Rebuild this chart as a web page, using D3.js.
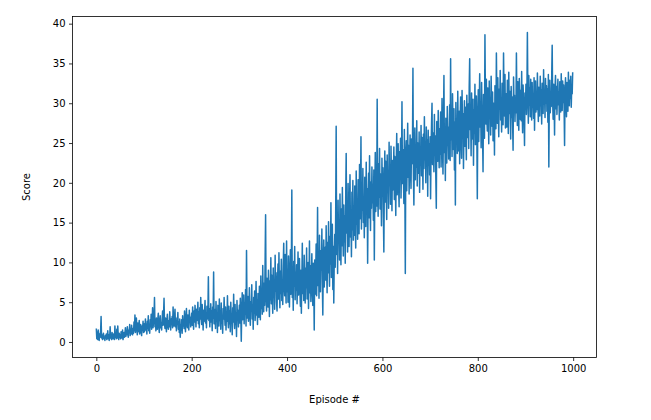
<!DOCTYPE html>
<html>
<head>
<meta charset="utf-8">
<script src="https://cdn.jsdelivr.net/npm/d3@7/dist/d3.min.js"></script>
<style>
  html, body { margin: 0; padding: 0; background: #fff; }
  svg { display: block; }
  .tick text { font-family: "DejaVu Sans", sans-serif; font-size: 10px; fill: #000; }
  .lbl { font-family: "DejaVu Sans", sans-serif; font-size: 10px; fill: #000; }
</style>
</head>
<body>
<svg id="chart" width="651" height="420"></svg>
<script>
// ---- data (scores per episode) ----
const scores = [
1.7,0.4,1.2,0.3,1.5,0.8,0.2,1.0,0.6,1.3,3.2,0.5,0.9,0.3,0.7,1.1,0.4,0.6,0.2,0.8,
0.5,1.0,0.3,0.7,1.4,0.4,0.9,0.2,0.6,1.9,0.5,0.8,0.3,1.2,0.6,0.4,1.0,0.7,0.3,2.0,
0.6,0.9,0.4,1.6,0.5,2.0,0.8,0.3,1.1,0.6,0.9,0.4,1.3,0.7,0.5,1.5,0.3,0.8,1.2,0.6,
1.0,1.8,0.7,1.4,0.9,1.9,1.1,0.6,1.5,1.2,2.2,0.8,1.6,1.0,2.1,1.3,0.9,1.7,1.1,2.5,
1.4,3.4,1.2,2.0,3.0,1.6,0.9,2.4,1.3,1.9,2.7,1.0,1.6,2.2,1.4,0.8,2.0,1.5,2.6,1.2,
2.3,1.3,1.8,2.9,1.5,2.2,1.0,2.6,1.7,3.3,1.4,2.1,1.1,2.8,1.9,3.5,1.6,2.4,4.3,1.8,
2.5,3.1,5.6,1.9,2.7,1.4,3.0,2.2,1.6,2.9,3.6,2.0,1.2,2.6,3.3,1.8,2.4,1.5,2.8,3.9,
2.1,3.4,5.5,2.3,1.7,3.0,2.5,1.3,2.8,3.5,2.0,1.6,2.7,1.9,3.8,2.4,1.5,2.9,2.2,3.2,
1.8,4.4,2.6,2.0,3.1,4.1,1.9,2.7,1.4,3.0,2.3,3.7,1.6,2.5,1.2,2.9,0.6,2.1,1.5,2.8,
1.1,3.3,2.0,2.6,1.7,3.9,2.4,1.3,2.9,4.2,2.2,1.8,3.4,2.7,1.5,4.0,2.5,3.1,1.9,2.8,
3.6,2.1,4.4,2.8,1.6,3.9,2.5,4.6,3.2,1.9,4.1,2.7,3.5,5.0,2.3,3.8,1.8,4.3,2.9,5.6,
3.1,2.2,4.7,3.4,1.5,4.0,2.6,3.7,5.2,2.4,3.3,1.8,4.5,2.9,3.6,8.2,2.7,4.2,1.9,3.5,
4.8,2.5,3.9,1.4,4.4,3.0,8.8,2.3,4.1,3.4,1.7,5.1,2.8,3.6,1.2,4.6,3.1,2.0,5.4,2.7,
3.8,1.6,4.9,2.4,3.3,1.1,4.2,2.9,5.6,3.5,2.1,4.4,1.5,3.7,2.6,5.8,3.0,1.8,4.5,2.3,
3.9,1.3,5.0,2.7,3.4,0.9,4.3,2.5,6.0,3.1,1.7,4.7,2.2,3.6,0.7,5.2,2.9,4.0,1.9,3.3,
4.6,2.4,5.5,3.2,0.1,4.1,6.2,2.8,3.7,5.9,2.3,4.9,3.5,6.6,2.0,11.5,4.4,3.0,5.7,2.6,
4.3,6.8,3.3,2.1,5.1,3.9,7.2,2.9,4.7,1.6,5.6,3.6,6.4,2.7,4.0,7.6,3.4,5.3,2.2,6.1,
4.5,3.1,7.0,5.2,2.8,8.3,4.2,6.5,3.5,9.6,5.0,3.8,7.4,4.6,10.2,16.0,5.5,3.9,8.0,6.2,
4.4,9.0,6.8,3.2,7.7,5.3,10.6,4.8,8.4,6.0,3.6,9.3,5.7,7.1,4.1,10.9,6.4,8.7,5.0,3.9,
7.5,9.8,5.4,11.2,6.6,4.3,8.9,6.1,10.4,5.2,7.8,4.7,9.5,12.4,6.9,5.8,11.0,7.3,4.9,12.7,
6.3,9.1,5.0,10.8,7.6,4.4,8.5,11.6,6.0,9.4,19.1,5.6,8.2,4.0,10.1,7.0,12.0,5.3,8.8,6.5,
9.7,4.8,7.4,11.3,5.9,8.1,10.5,6.4,4.5,9.0,3.6,7.7,12.4,6.1,8.6,5.2,10.9,7.2,4.9,9.3,
6.8,11.8,5.4,8.3,10.0,4.2,7.5,12.7,6.2,9.6,5.1,8.0,11.1,6.7,4.6,9.9,7.0,1.5,10.3,6.0,
8.4,12.3,5.8,9.2,16.9,7.1,10.7,5.5,13.4,8.0,6.3,11.5,9.0,14.2,7.4,3.4,10.1,12.8,6.9,9.5,
11.9,7.8,14.6,9.3,6.2,12.5,8.7,15.1,10.2,7.0,13.3,9.8,17.5,8.1,11.4,14.8,6.6,12.0,4.9,10.6,
13.5,9.4,16.2,27.1,11.0,15.3,8.6,17.8,12.4,14.9,10.3,18.6,13.0,9.7,16.7,12.1,19.4,14.3,10.8,17.2,
12.6,15.8,9.9,18.1,23.7,13.7,16.5,11.3,19.9,14.6,12.0,17.4,21.0,13.2,15.9,10.7,18.8,14.1,20.3,12.8,
16.9,13.4,19.6,15.2,11.8,21.5,14.8,17.7,12.9,20.4,16.0,13.6,22.3,15.5,18.5,25.8,14.2,19.1,16.6,21.8,
15.0,18.3,13.1,20.7,17.2,14.5,22.6,16.1,19.3,9.9,17.9,21.2,15.6,23.4,18.0,14.0,20.1,16.8,22.0,17.5,
19.8,15.3,21.6,10.3,18.6,23.8,16.4,20.5,17.1,30.5,19.0,15.8,22.4,18.2,24.3,16.7,21.1,19.5,14.6,23.1,
18.4,21.9,16.2,11.3,20.0,24.0,17.6,22.7,19.2,15.4,23.5,18.9,21.4,16.8,25.1,19.7,22.2,17.3,24.6,20.3,
16.5,22.8,19.1,21.0,24.5,17.9,23.3,20.6,15.9,22.5,26.2,18.5,21.7,24.9,19.4,17.0,23.9,20.8,25.6,18.1,
22.1,30.2,19.9,24.2,21.3,17.4,26.7,20.2,8.6,23.6,25.3,19.0,22.9,27.5,20.7,24.7,18.6,23.0,26.0,21.5,
19.3,25.5,22.4,24.1,34.4,21.1,17.2,23.7,26.9,20.4,24.8,22.0,27.8,19.6,25.0,23.2,21.2,26.4,18.8,24.4,
22.6,27.2,20.9,25.7,23.4,19.2,26.1,21.8,28.3,22.9,24.6,20.0,27.0,23.1,25.4,18.3,26.6,22.2,24.9,21.0,
25.8,18.0,23.9,27.4,30.0,22.3,26.3,24.0,21.4,28.6,23.5,25.9,20.6,16.8,27.7,24.3,22.7,29.1,25.2,21.9,
26.8,23.6,28.9,22.0,25.6,30.6,24.5,21.1,27.3,33.5,23.8,26.5,20.3,28.1,25.1,22.5,29.6,24.7,27.0,23.0,
26.0,29.8,22.8,35.6,25.4,28.4,23.3,31.2,26.6,24.2,29.3,21.6,27.6,17.2,30.1,25.0,28.0,23.7,31.5,26.2,
24.0,29.0,22.4,27.9,30.8,25.3,23.1,31.6,26.9,28.7,21.8,27.1,30.3,24.6,29.5,26.4,22.9,31.0,27.5,25.7,
29.9,24.3,32.0,35.6,26.7,28.8,23.4,31.3,27.2,25.5,30.5,22.2,29.2,26.3,32.4,24.8,28.2,30.9,25.9,18.0,
27.8,31.7,25.2,29.6,33.7,27.0,30.2,24.4,32.6,28.5,26.1,21.4,31.1,29.0,25.6,38.6,30.4,27.4,33.0,28.1,
26.5,31.9,29.4,24.9,32.8,28.3,30.7,26.0,33.4,29.7,27.1,31.4,25.3,30.0,28.6,23.5,32.2,29.1,26.8,36.3,
30.6,27.5,33.2,28.9,25.8,31.8,29.3,34.1,27.9,30.3,26.4,32.5,29.8,27.3,36.3,30.9,28.4,33.6,26.9,31.2,
29.5,27.0,32.9,30.1,26.2,33.9,28.7,31.5,29.0,25.5,32.1,28.2,30.8,27.6,24.1,33.3,29.9,31.0,27.7,30.5,
28.8,36.3,30.0,27.2,32.7,29.6,26.6,33.1,30.7,28.0,31.6,27.8,34.0,29.2,26.3,32.3,30.2,28.5,24.7,31.3,
29.4,32.4,28.6,30.9,38.9,31.4,27.5,33.5,29.8,31.9,28.3,33.0,30.3,27.9,32.6,29.5,31.1,28.1,33.2,26.6,
30.8,32.8,28.9,31.5,29.2,33.8,30.1,27.7,32.0,30.6,28.4,33.4,29.7,31.7,27.4,32.5,30.4,28.7,34.2,29.9,
31.3,28.2,33.1,30.0,32.2,29.0,31.8,27.6,33.6,22.0,30.5,32.9,28.8,31.2,29.6,33.3,37.3,30.2,28.0,32.4,
30.7,26.0,31.9,33.5,29.3,32.1,28.6,30.9,33.0,29.8,31.4,27.9,32.7,30.3,28.9,33.7,31.0,29.1,32.8,30.1,
32.3,29.4,24.7,31.6,33.2,30.4,28.3,32.6,30.8,29.0,33.9,31.5,29.7,32.9,30.6,33.4,29.5,32.1,31.2,33.9
];
const xTicks = [0, 200, 400, 600, 800, 1000];
const yTicks = [0, 5, 10, 15, 20, 25, 30, 35, 40];
const xLabel = "Episode #";
const yLabel = "Score";

// ---- layout ----
const L = 72.5, R = 596.5, T = 16.5, B = 357.5;
const svg = d3.select("#chart");

const n = scores.length;
const xm = (n - 1) * 0.05;
const x = d3.scaleLinear().domain([-xm, (n - 1) + xm]).range([L, R]);
const y = d3.scaleLinear().domain([-1.95, 40.9]).range([B, T]);

// line
const line = d3.line().x((d, i) => x(i)).y(d => y(d));
svg.append("path")
  .datum(scores)
  .attr("d", line)
  .attr("fill", "none")
  .attr("stroke", "#1f77b4")
  .attr("stroke-width", 1.5)
  .attr("stroke-linejoin", "round");

// axes
const xAxis = d3.axisBottom(x).tickValues(xTicks).tickSize(3.5).tickPadding(3.5).tickFormat(d3.format("d"));
const yAxis = d3.axisLeft(y).tickValues(yTicks).tickSize(3.5).tickPadding(3.5).tickFormat(d3.format("d"));

const gx = svg.append("g").attr("transform", `translate(0,${B})`).call(xAxis);
const gy = svg.append("g").attr("transform", `translate(${L},0)`).call(yAxis);
[gx, gy].forEach(g => {
  g.select(".domain").remove();
  g.selectAll(".tick line").attr("stroke", "#000").attr("stroke-width", 0.8);
  g.selectAll(".tick text").attr("font-family", "DejaVu Sans").attr("font-size", 10);
});

// spines
svg.append("rect")
  .attr("x", L).attr("y", T).attr("width", R - L).attr("height", B - T)
  .attr("fill", "none").attr("stroke", "#000").attr("stroke-width", 0.8);

// axis labels
svg.append("text").attr("class", "lbl")
  .attr("x", (L + R) / 2).attr("y", 403)
  .attr("text-anchor", "middle").text(xLabel);
svg.append("text").attr("class", "lbl")
  .attr("transform", `translate(30,${(T + B) / 2}) rotate(-90)`)
  .attr("text-anchor", "middle").text(yLabel);
</script>
</body>
</html>
